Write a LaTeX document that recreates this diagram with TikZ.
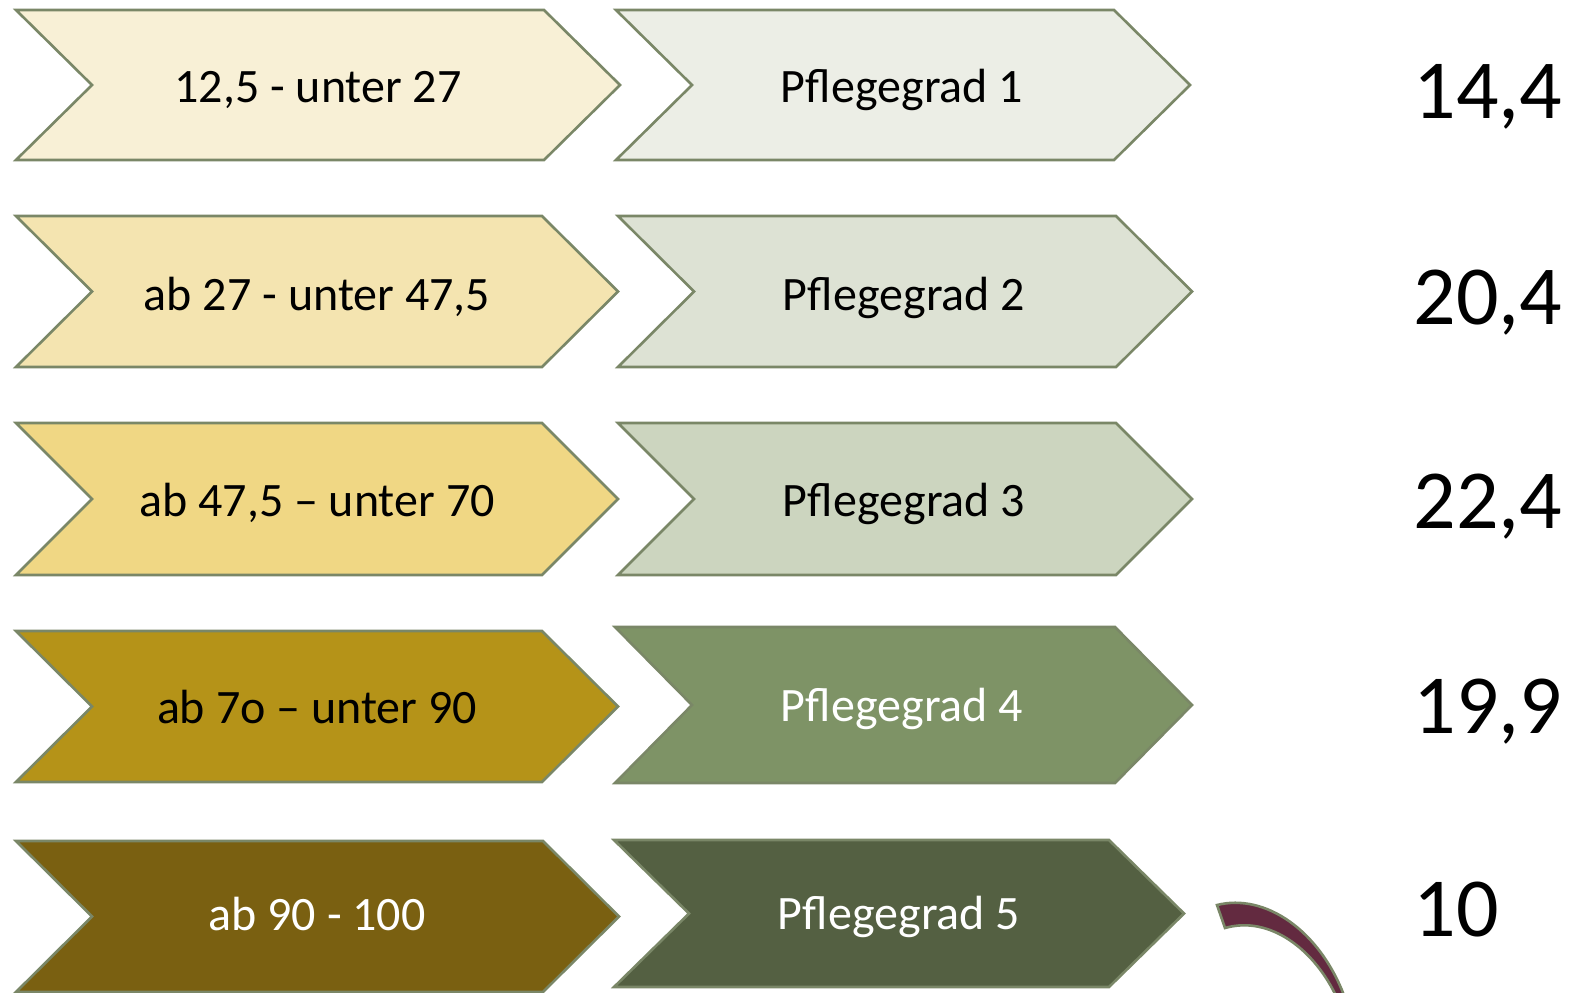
\documentclass[tikz,border=0pt]{standalone}
\usepackage{fontspec}
\setmainfont{Carlito}
\definecolor{edge}{HTML}{7A8767}
\definecolor{scoreA}{HTML}{F8F0D6}
\definecolor{scoreB}{HTML}{F4E4B0}
\definecolor{scoreC}{HTML}{F0D784}
\definecolor{scoreD}{HTML}{B59318}
\definecolor{scoreE}{HTML}{7A6011}
\definecolor{gradeA}{HTML}{ECEEE6}
\definecolor{gradeB}{HTML}{DDE2D4}
\definecolor{gradeC}{HTML}{CCD5BF}
\definecolor{gradeD}{HTML}{7E9366}
\definecolor{gradeE}{HTML}{546042}
\definecolor{maroon}{HTML}{632A40}
% chevron: fill, x0, y0, x1, y1, depth
\newcommand\chevron[6]{%
  \filldraw[chev, fill=#1] (#2,#3) -- ({#4-#6},#3) -- (#4,{(#3+#5)/2})
    -- ({#4-#6},#5) -- (#2,#5) -- ({#2+#6},{(#3+#5)/2}) -- cycle;}
\begin{document}
\begin{tikzpicture}[x=0.5pt,y=-0.5pt,
  chev/.style={draw=edge, line width=1.3pt, line join=miter},
  lbl/.style={font=\fontsize{24}{28}\selectfont, inner sep=0, anchor=base},
  num/.style={font=\fontsize{42}{50}\selectfont, inner sep=0, anchor=base west}]
\useasboundingbox (0,0) rectangle (1572,992);
\fill[white] (0,0) rectangle (1572,992);

% score ranges
\chevron{scoreA}{16}{10}{620}{160}{76}
\chevron{scoreB}{16}{216}{618}{367}{76}
\chevron{scoreC}{16}{423}{618}{575}{76}
\chevron{scoreD}{16}{631}{618}{782}{76}
\chevron{scoreE}{16}{841}{619}{992}{76}

% care grades
\chevron{gradeA}{616}{10}{1190}{160}{76}
\chevron{gradeB}{618}{216}{1192}{367}{76}
\chevron{gradeC}{618}{423}{1192}{575}{76}
\chevron{gradeD}{615}{627}{1192}{783}{77}
\chevron{gradeE}{614}{840}{1184}{987}{75}

\node[lbl] (s1) at (318,102) {12,5 - unter 27};
\node[lbl] (s2) at (317,310) {ab 27 - unter 47,5};
\node[lbl] (s3) at (317,516) {ab 47,5 – unter 70};
\node[lbl] (s4) at (317,723) {ab 7o – unter 90};
\node[lbl, text=white] (s5) at (317,930) {ab 90 - 100};

\node[lbl] (g1) at (902,102) {Pflegegrad 1};
\node[lbl] (g2) at (904,310) {Pflegegrad 2};
\node[lbl] (g3) at (904,516) {Pflegegrad 3};
\node[lbl, text=white] (g4) at (902,721) {Pflegegrad 4};
\node[lbl, text=white] (g5) at (899,929) {Pflegegrad 5};

\node[num] (n1) at (1413,118) {14,4};
\node[num] (n2) at (1413,324) {20,4};
\node[num] (n3) at (1413,528) {22,4};
\node[num] (n4) at (1413,733) {19,9};
\node[num] (n5) at (1413,936) {10};

% curved stroke at the lower right
\filldraw[fill=maroon, draw=edge, line width=1.3pt]
  (1217,905) .. controls (1265,893) and (1320,930) .. (1345,998)
  -- (1337,998) .. controls (1315,950) and (1270,915) .. (1225,928) -- cycle;
\end{tikzpicture}
\end{document}
